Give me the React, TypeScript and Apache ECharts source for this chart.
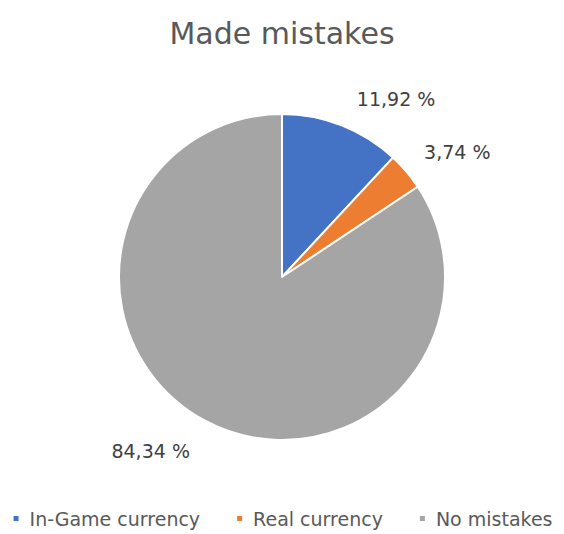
import React, { useEffect, useRef } from "react";
import * as echarts from "echarts";

const categories = ["In-Game currency", "Real currency", "No mistakes"];
const values = [11.92, 3.74, 84.34];
const colors = ["#4472C4", "#ED7D31", "#A5A5A5"];
const labelLines = [
  { length: 28, length2: 0, dist: 5 },
  { length: 30, length2: 0, dist: -5 },
  { length: 34, length2: 0, dist: -1 },
];

export default function App() {
  const ref = useRef<HTMLDivElement>(null);
  useEffect(() => {
    document.body.style.margin = "0";
    const chart = echarts.init(ref.current!, null, { renderer: "svg" });
    const font = "'DejaVu Sans', 'Open Sans', sans-serif";
    chart.setOption({
      animation: false,
      backgroundColor: "#ffffff",
      title: {
        text: "Made mistakes",
        left: "center",
        top: 13,
        textStyle: { fontFamily: font, fontSize: 30, fontWeight: "normal", color: "#595959" },
      },
      legend: {
        bottom: 1,
        left: "center",
        itemWidth: 7,
        itemHeight: 7,
        itemGap: 35,
        icon: "rect",
        textStyle: { fontFamily: font, fontSize: 19, color: "#595959", padding: [0, 0, 0, 5] },
        data: categories,
      },
      series: [
        {
          type: "pie",
          center: [282, 277],
          radius: 163,
          startAngle: 90,
          clockwise: true,
          avoidLabelOverlap: false,
          itemStyle: { borderColor: "#ffffff", borderWidth: 2 },
          label: {
            show: true,
            position: "outside",
            fontFamily: font,
            fontSize: 19,
            color: "#404040",
            formatter: (p: any) => p.value.toFixed(2).replace(".", ",") + " %",
          },
          labelLine: { show: false },
          data: categories.map((name, i) => ({
            name,
            value: values[i],
            itemStyle: { color: colors[i] },
            label: { distanceToLabelLine: labelLines[i].dist },
            labelLine: { show: false, length: labelLines[i].length, length2: labelLines[i].length2 },
          })),
        },
      ],
    });
    return () => chart.dispose();
  }, []);
  return <div ref={ref} style={{ width: 564, height: 534 }} />;
}
